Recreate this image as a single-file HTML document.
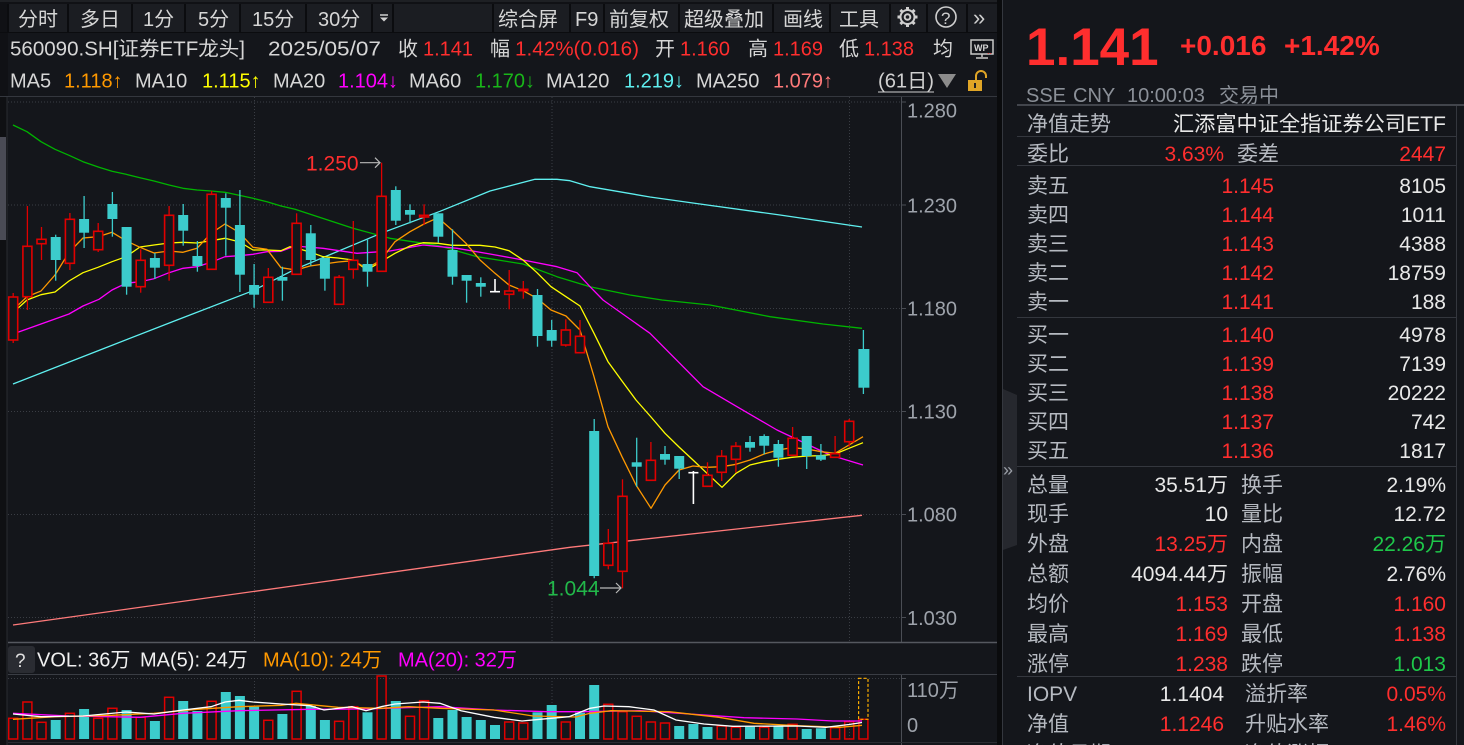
<!DOCTYPE html>
<html><head><meta charset="utf-8">
<style>
html,body{margin:0;padding:0;background:#14161b;width:1464px;height:745px;overflow:hidden}
svg{display:block}
text{font-family:"Liberation Sans","Noto Sans CJK SC",sans-serif}
</style></head><body>
<svg width="1464" height="745" viewBox="0 0 1464 745" xmlns="http://www.w3.org/2000/svg">
<rect x="0" y="0" width="1464" height="745" fill="#14161b"/>
<!-- toolbar -->
<rect x="0" y="0" width="997" height="4" fill="#101115"/>
<line x1="0" y1="1" x2="997" y2="1" stroke="#2c2e34" stroke-width="1"/>
<rect x="8" y="4" width="989" height="28" fill="#1b1d22"/>
<rect x="0" y="4" width="8" height="93" fill="#101115"/>
<g stroke="#0b0c0f" stroke-width="2">
<line x1="8" y1="4" x2="8" y2="32"/><line x1="68" y1="4" x2="68" y2="32"/><line x1="132" y1="4" x2="132" y2="32"/><line x1="185" y1="4" x2="185" y2="32"/><line x1="240" y1="4" x2="240" y2="32"/><line x1="306" y1="4" x2="306" y2="32"/><line x1="372" y1="4" x2="372" y2="32"/><line x1="393" y1="4" x2="393" y2="32"/><line x1="493" y1="4" x2="493" y2="32"/><line x1="570" y1="4" x2="570" y2="32"/><line x1="604" y1="4" x2="604" y2="32"/><line x1="679" y1="4" x2="679" y2="32"/><line x1="773" y1="4" x2="773" y2="32"/><line x1="830" y1="4" x2="830" y2="32"/><line x1="890" y1="4" x2="890" y2="32"/><line x1="927" y1="4" x2="927" y2="32"/><line x1="967" y1="4" x2="967" y2="32"/>
</g>
<line x1="0" y1="32.5" x2="997" y2="32.5" stroke="#0b0c0f" stroke-width="1"/>
<g font-size="20" fill="#d6d6d6">
<text x="18" y="26">分时</text><text x="80" y="26">多日</text><text x="143" y="26">1分</text><text x="198" y="26">5分</text><text x="252" y="26">15分</text><text x="318" y="26">30分</text>
<text x="498" y="26">综合屏</text><text x="575" y="26">F9</text><text x="609" y="26">前复权</text><text x="684" y="26">超级叠加</text><text x="783" y="26">画线</text><text x="839" y="26">工具</text>
</g>
<line x1="380" y1="15" x2="388" y2="15" stroke="#d0d0d0" stroke-width="1.5"/>
<polygon points="380,17.5 388,17.5 384,21.5" fill="#d0d0d0"/>
<!-- gear -->
<g stroke="#cfcfcf" fill="none" stroke-width="2">
<circle cx="907.5" cy="17" r="7"/><circle cx="907.5" cy="17" r="2.8"/>
</g>
<g stroke="#cfcfcf" stroke-width="3">
<line x1="907.5" y1="7" x2="907.5" y2="10"/><line x1="907.5" y1="24" x2="907.5" y2="27"/><line x1="897.5" y1="17" x2="900.5" y2="17"/><line x1="914.5" y1="17" x2="917.5" y2="17"/>
<line x1="900.4" y1="9.9" x2="902.5" y2="12"/><line x1="912.5" y1="22" x2="914.6" y2="24.1"/><line x1="900.4" y1="24.1" x2="902.5" y2="22"/><line x1="912.5" y1="12" x2="914.6" y2="9.9"/>
</g>
<circle cx="946" cy="17" r="10" stroke="#cfcfcf" stroke-width="1.6" fill="none"/>
<text x="941" y="24" font-size="17" fill="#cfcfcf">?</text>
<text x="973" y="25" font-size="22" fill="#cfcfcf">»</text>

<!-- row 2 -->
<g font-size="20" fill="#d6d6d6">
<text x="10" y="55.5" textLength="235" lengthAdjust="spacingAndGlyphs">560090.SH[证券ETF龙头]</text>
<text x="268" y="55.5" textLength="113" lengthAdjust="spacingAndGlyphs">2025/05/07</text>
<text x="398" y="55.5">收</text><text x="490" y="55.5">幅</text><text x="655" y="55.5">开</text><text x="748" y="55.5">高</text><text x="839" y="55.5">低</text><text x="933" y="55.5">均</text>
</g>
<g font-size="20" fill="#ff2e2e">
<text x="423" y="55.5">1.141</text>
<text x="515" y="55.5" textLength="124" lengthAdjust="spacingAndGlyphs">1.42%(0.016)</text>
<text x="680" y="55.5">1.160</text><text x="773" y="55.5">1.169</text><text x="864" y="55.5">1.138</text>
</g>
<!-- WP icon -->
<rect x="971" y="40" width="22" height="14" fill="none" stroke="#c8c8c8" stroke-width="1.5"/>
<text x="974" y="51" font-size="9" font-weight="bold" fill="#d8d8d8">WP</text>
<line x1="982" y1="54" x2="982" y2="57" stroke="#c8c8c8" stroke-width="1.5"/>
<line x1="976" y1="58" x2="988" y2="58" stroke="#c8c8c8" stroke-width="1.5"/>
<text x="987" y="54" font-size="9" fill="#ff2e2e">..</text>

<!-- row 3 MA legend -->
<g font-size="20">
<text x="10" y="87.5" fill="#d6d6d6">MA5</text><text x="64" y="87.5" fill="#ff9900">1.118↑</text>
<text x="135" y="87.5" fill="#d6d6d6">MA10</text><text x="202" y="87.5" fill="#ffff00">1.115↑</text>
<text x="273" y="87.5" fill="#d6d6d6">MA20</text><text x="338" y="87.5" fill="#ff00ff">1.104↓</text>
<text x="409" y="87.5" fill="#d6d6d6">MA60</text><text x="475" y="87.5" fill="#19b619">1.170↓</text>
<text x="546" y="87.5" fill="#d6d6d6">MA120</text><text x="624" y="87.5" fill="#5ff0f0">1.219↓</text>
<text x="696" y="87.5" fill="#d6d6d6">MA250</text><text x="773" y="87.5" fill="#ff7a7a">1.079↑</text>
<text x="878" y="87.5" fill="#d0d0d0" textLength="56" lengthAdjust="spacingAndGlyphs">(61日)</text>
</g>
<line x1="878" y1="92" x2="934" y2="92" stroke="#d0d0d0" stroke-width="1"/>
<polygon points="938,74 956,74 947,88" fill="#8c8c8c"/>
<path d="M976 80 V76 a5 5 0 0 1 10 0 V78" fill="none" stroke="#e0a526" stroke-width="2"/>
<rect x="968" y="80" width="14" height="11" fill="#e0a526"/>
<rect x="974" y="83" width="2" height="5" fill="#222"/>

<line x1="0" y1="96.5" x2="997" y2="96.5" stroke="#34373e" stroke-width="1"/>

<!-- left strip -->
<rect x="0" y="97" width="7" height="648" fill="#0f1013"/>
<rect x="0" y="137" width="6" height="103" fill="#4a4b55"/>
<line x1="7" y1="97" x2="7" y2="745" stroke="#2a2c32" stroke-width="1"/>

<!-- grid -->
<g stroke="#3a3d44" stroke-width="1" stroke-dasharray="1 2">
<line x1="8" y1="102" x2="901" y2="102"/><line x1="8" y1="205" x2="901" y2="205"/><line x1="8" y1="308.5" x2="901" y2="308.5"/><line x1="8" y1="411.5" x2="901" y2="411.5"/><line x1="8" y1="514.5" x2="901" y2="514.5"/><line x1="8" y1="617.5" x2="901" y2="617.5"/>
<line x1="254.5" y1="97" x2="254.5" y2="642"/><line x1="552" y1="97" x2="552" y2="642"/><line x1="849.5" y1="97" x2="849.5" y2="642"/>
<line x1="8" y1="678.5" x2="901" y2="678.5"/>
<line x1="254.5" y1="678" x2="254.5" y2="740"/><line x1="552" y1="678" x2="552" y2="740"/><line x1="849.5" y1="678" x2="849.5" y2="740"/>
</g>
<g stroke="#4a4d54" stroke-width="1">
<line x1="901.5" y1="97" x2="901.5" y2="642"/>
<line x1="901.5" y1="675" x2="901.5" y2="745"/>
<line x1="901" y1="102" x2="906" y2="102"/><line x1="901" y1="205" x2="906" y2="205"/><line x1="901" y1="308.5" x2="906" y2="308.5"/><line x1="901" y1="411.5" x2="906" y2="411.5"/><line x1="901" y1="514.5" x2="906" y2="514.5"/><line x1="901" y1="617.5" x2="906" y2="617.5"/><line x1="901" y1="678.5" x2="906" y2="678.5"/>
</g>
<g font-size="20" fill="#9ea3ab">
<text x="907" y="117.5">1.280</text><text x="907" y="212.5">1.230</text><text x="907" y="315.5">1.180</text><text x="907" y="418.5">1.130</text><text x="907" y="521.5">1.080</text><text x="907" y="625">1.030</text>
<text x="907" y="697">110万</text><text x="907" y="732">0</text>
</g>

<!-- MA lines -->
<g fill="none" stroke-width="1.3" stroke-linejoin="round">
<polyline stroke="#ff7a7a" points="13,625 300,585 570,547.3 862,515.3"/>
<polyline stroke="#5ff0f0" points="13,384 100,350 177,320 253,290.7 295,269.3 381,233.3 440,211.3 490,191 535,179.3 557,179.3 570,180.7 590,186.7 650,197 700,204 780,215 862,227"/>
<polyline stroke="#00b400" points="13,125 27,131.7 41,141.7 55,149.3 69,155.3 83,161.7 99,167.3 112,171.3 126,174.3 140,177.7 154,181 169,185 183,188.3 197,190 211,191 225,192.3 239,195.3 253,198.3 267,201.7 281,206 295,209.3 353,228.3 390,238.3 437,245.3 477,256.7 523,264 557,276.7 590,286.7 630,295 662,300 710,305 770,316.7 823,324 862,328.3"/>
<polyline stroke="#ff00ff" points="13,334 27,329 41,324 55,319 69,314 83,306 99,299.3 112,290 126,283.3 140,281.7 154,278.7 169,272.7 183,268.3 197,266.7 211,262.3 225,256.7 239,255.7 253,254.3 267,251.7 281,251.3 295,246 323,248.3 357,253.3 390,251 423,245 457,248.3 490,254 523,260 557,266.7 577,272.7 590,286.7 603,300 650,333.3 703,386.7 737,406.7 777,430 830,455 863,465"/>
<polyline stroke="#ffff00" points="13,312.7 27,300 41,294.7 55,292 69,281 83,272.7 98,267.3 112,261.7 126,256.7 140,247 154,245 169,243 183,242.3 197,243 211,240.7 225,238.3 239,241.7 253,250 267,250 281,250.7 290,246.7 296,248 310,252 323,256.7 338,258 353,260 367,270 381,261.7 395,253.3 410,246 423,242.7 438,243.3 452,245.3 466,245.3 480,245.3 495,247 509,250.7 523,260 537,272.7 551,286.7 566,296.7 580,306 594,333.3 608,361.7 622,381 636,400 651,417 665,433.3 679,447 693,460 707,473.3 722,487.3 736,473.3 750,465 764,461.7 778,459.3 792,457.3 807,456 821,455.7 835,454 849,448.3 863,442.7"/>
<polyline stroke="#ff9900" points="13,310 27,296.7 41,291 55,275 69,252.3 83,238 98,236.7 112,232.3 126,240.7 140,247.3 154,253 169,251 183,252.3 197,248.3 211,233.3 225,224 239,232.3 253,247.3 267,249.3 281,267.7 296,270 310,266 324,264 338,262 353,260.7 367,268.3 381,260 395,241.7 410,231.7 424,224 438,217.7 452,230 466,243.3 480,260 495,273.3 509,285 523,290.7 537,298.3 551,310 566,316 580,330 594,376.7 608,426.7 622,456.7 636,485 651,508.3 665,485 679,470 693,466 707,467.3 722,466.7 736,464.3 750,460 764,454 778,450 792,447.7 807,449 821,451.7 835,453.3 849,445 863,436.7"/>
</g>

<!-- down candles (cyan) -->
<g stroke="#3ccccc" stroke-width="1.3">
<line x1="55.7" y1="234.7" x2="55.7" y2="280.7"/><line x1="84.1" y1="196" x2="84.1" y2="248"/><line x1="112.4" y1="192" x2="112.4" y2="236.7"/><line x1="126.6" y1="227" x2="126.6" y2="294.7"/><line x1="154.9" y1="253" x2="154.9" y2="279"/><line x1="183.2" y1="204" x2="183.2" y2="245.7"/><line x1="197.4" y1="241" x2="197.4" y2="271.7"/><line x1="225.8" y1="193.3" x2="225.8" y2="255.7"/><line x1="239.9" y1="190" x2="239.9" y2="292"/><line x1="254.1" y1="264" x2="254.1" y2="307.7"/><line x1="282.4" y1="266.7" x2="282.4" y2="300.7"/><line x1="310.8" y1="225" x2="310.8" y2="265.7"/><line x1="324.9" y1="258" x2="324.9" y2="290.7"/><line x1="367.5" y1="239" x2="367.5" y2="286.7"/><line x1="395.8" y1="186.3" x2="395.8" y2="225"/><line x1="410" y1="204.3" x2="410" y2="223.3"/><line x1="438.3" y1="213.3" x2="438.3" y2="242.7"/><line x1="452.5" y1="229.3" x2="452.5" y2="284.7"/><line x1="466.6" y1="275" x2="466.6" y2="302.7"/><line x1="480.8" y1="277.3" x2="480.8" y2="296.7"/><line x1="537.5" y1="289" x2="537.5" y2="346.7"/><line x1="551.7" y1="320" x2="551.7" y2="346.7"/><line x1="594.2" y1="419" x2="594.2" y2="578.3"/><line x1="636.7" y1="437.7" x2="636.7" y2="486.7"/><line x1="665" y1="446" x2="665" y2="464.7"/><line x1="679.2" y1="456" x2="679.2" y2="479"/><line x1="750" y1="436" x2="750" y2="451.7"/><line x1="764.2" y1="434.3" x2="764.2" y2="454.3"/><line x1="778.4" y1="440" x2="778.4" y2="466.7"/><line x1="806.7" y1="436" x2="806.7" y2="469"/><line x1="820.9" y1="444" x2="820.9" y2="461"/><line x1="863.4" y1="330" x2="863.4" y2="394"/>
</g>
<g fill="#3ccccc">
<rect x="50.7" y="237" width="10" height="23"/><rect x="79.1" y="219" width="10" height="13.7"/><rect x="107.4" y="204" width="10" height="15"/><rect x="121.6" y="227" width="10" height="59.7"/><rect x="149.9" y="258" width="10" height="9.7"/><rect x="178.2" y="215" width="10" height="15.7"/><rect x="192.4" y="256" width="10" height="10"/><rect x="220.8" y="198" width="10" height="9.7"/><rect x="234.9" y="225" width="10" height="49.7"/><rect x="249.1" y="285" width="10" height="9.7"/><rect x="277.4" y="277" width="10" height="3.7"/><rect x="305.8" y="233.3" width="10" height="26.7"/><rect x="319.9" y="258" width="10" height="20.7"/><rect x="362.5" y="264" width="10" height="7.7"/><rect x="390.8" y="190" width="10" height="30.7"/><rect x="405" y="210" width="10" height="4.7"/><rect x="433.3" y="213.3" width="10" height="23.4"/><rect x="447.5" y="250" width="10" height="26.7"/><rect x="461.6" y="275" width="10" height="5.7"/><rect x="475.8" y="283" width="10" height="3.7"/><rect x="532.5" y="295" width="10" height="41"/><rect x="546.7" y="330" width="10" height="10.7"/><rect x="589.2" y="431" width="10" height="145"/><rect x="631.7" y="462.3" width="10" height="4.4"/><rect x="660" y="454" width="10" height="5.7"/><rect x="674.2" y="456" width="10" height="12.7"/><rect x="745" y="442" width="10" height="5.7"/><rect x="759.2" y="436" width="10" height="9.7"/><rect x="773.4" y="444" width="10" height="13.7"/><rect x="801.7" y="436" width="10" height="20"/><rect x="815.9" y="455.3" width="10" height="4.4"/><rect x="858.4" y="349" width="11" height="38.7"/>
</g>
<!-- up candles (red hollow) -->
<g stroke="#e00000" stroke-width="1.3">
<line x1="13.2" y1="293" x2="13.2" y2="343"/><line x1="27.4" y1="206" x2="27.4" y2="310"/><line x1="41.5" y1="227" x2="41.5" y2="260"/><line x1="69.9" y1="213" x2="69.9" y2="270"/><line x1="98.2" y1="223" x2="98.2" y2="252"/><line x1="140.7" y1="249.3" x2="140.7" y2="292.7"/><line x1="169.1" y1="206" x2="169.1" y2="280.7"/><line x1="211.6" y1="191" x2="211.6" y2="269.3"/><line x1="268.3" y1="268" x2="268.3" y2="302.3"/><line x1="296.6" y1="213.3" x2="296.6" y2="274.3"/><line x1="339.1" y1="275" x2="339.1" y2="304.3"/><line x1="353.3" y1="221" x2="353.3" y2="278.7"/><line x1="381.6" y1="162.7" x2="381.6" y2="271.3"/><line x1="424.1" y1="204.3" x2="424.1" y2="225"/><line x1="509.2" y1="270" x2="509.2" y2="309.3"/><line x1="523.3" y1="281" x2="523.3" y2="298.7"/><line x1="565.8" y1="319.3" x2="565.8" y2="346.7"/><line x1="580" y1="320" x2="580" y2="352.7"/><line x1="608.3" y1="529" x2="608.3" y2="569.3"/><line x1="622.5" y1="479.3" x2="622.5" y2="588.3"/><line x1="650.9" y1="442" x2="650.9" y2="480.3"/><line x1="707.5" y1="462.3" x2="707.5" y2="486.3"/><line x1="721.7" y1="450" x2="721.7" y2="481"/><line x1="735.9" y1="442" x2="735.9" y2="472.7"/><line x1="792.6" y1="427" x2="792.6" y2="455.3"/><line x1="835.1" y1="436" x2="835.1" y2="457.3"/><line x1="849.2" y1="419" x2="849.2" y2="446.7"/>
</g>
<g fill="#14161b" stroke="#e00000" stroke-width="1.6">
<rect x="8.7" y="297" width="9" height="43"/><rect x="22.9" y="246.3" width="9" height="50.4"/><rect x="37" y="239.3" width="9" height="4.4"/><rect x="65.4" y="219.3" width="9" height="44"/><rect x="93.7" y="231.3" width="9" height="18.4"/><rect x="136.2" y="260.3" width="9" height="26.4"/><rect x="164.6" y="215.3" width="9" height="50"/><rect x="207.1" y="194.3" width="9" height="75"/><rect x="263.8" y="277.3" width="9" height="25"/><rect x="292.1" y="223.3" width="9" height="51"/><rect x="334.6" y="277.3" width="9" height="27"/><rect x="348.8" y="260.3" width="9" height="9"/><rect x="377.1" y="196.3" width="9" height="75"/><rect x="419.6" y="215.3" width="9" height="1.7"/><rect x="504.7" y="291" width="9" height="3.3"/><rect x="518.8" y="289.3" width="9" height="1.4"/><rect x="561.3" y="330" width="9" height="15"/><rect x="575.5" y="336.3" width="9" height="16.4"/><rect x="603.8" y="543.3" width="9" height="22"/><rect x="618" y="496.3" width="9" height="75"/><rect x="646.4" y="460.3" width="9" height="20"/><rect x="703" y="475.3" width="9" height="11"/><rect x="717.2" y="456.3" width="9" height="16"/><rect x="731.4" y="446.3" width="9" height="13"/><rect x="788.1" y="438.3" width="9" height="17"/><rect x="830.6" y="453.7" width="9" height="3.6"/><rect x="844.7" y="421.3" width="9" height="20.4"/>
</g>
<!-- doji -->
<g stroke="#ffffff" stroke-width="1.6">
<line x1="495" y1="279" x2="495" y2="292"/><line x1="490" y1="291.7" x2="500" y2="291.7"/>
<line x1="693.4" y1="471" x2="693.4" y2="504"/><line x1="688.4" y1="472.7" x2="698.4" y2="472.7"/>
</g>
<!-- high / low labels -->
<text x="306" y="170.5" font-size="21" fill="#ff2e2e">1.250</text>
<g stroke="#b8b8b8" stroke-width="1.2" fill="none">
<line x1="360" y1="162.7" x2="380" y2="162.7"/><polyline points="375,157.7 380,162.7 375,167.7"/>
<line x1="600" y1="588" x2="621" y2="588"/><polyline points="616,583 621,588 616,593"/>
</g>
<text x="547" y="595.5" font-size="21" fill="#22b84a">1.044</text>

<!-- separators main/vol -->
<line x1="8" y1="642.5" x2="997" y2="642.5" stroke="#55585f" stroke-width="1.5"/>
<line x1="8" y1="674.5" x2="997" y2="674.5" stroke="#3a3d44" stroke-width="1"/>
<rect x="8" y="646" width="27" height="27" rx="3" fill="#2a2c32"/>
<text x="15" y="667" font-size="19" fill="#e0e0e0">?</text>
<g font-size="20">
<text x="37" y="666.5" fill="#f0f0f0">VOL: 36万</text>
<text x="140" y="666.5" fill="#f0f0f0">MA(5): 24万</text>
<text x="263" y="666.5" fill="#ff9900">MA(10): 24万</text>
<text x="398" y="666.5" fill="#ff00ff">MA(20): 32万</text>
</g>

<!-- volume bars cyan -->
<g fill="#3ccccc">
<rect x="50.7" y="720" width="10" height="19"/><rect x="79.1" y="709" width="10" height="30"/><rect x="121.6" y="710" width="10" height="29"/><rect x="149.9" y="721" width="10" height="18"/><rect x="178.2" y="701" width="10" height="38"/><rect x="192.4" y="711" width="10" height="28"/><rect x="220.8" y="692" width="10" height="47"/><rect x="234.9" y="696" width="10" height="43"/><rect x="249.1" y="706.7" width="10" height="32.3"/><rect x="277.4" y="714" width="10" height="25"/><rect x="305.8" y="706" width="10" height="33"/><rect x="319.9" y="720" width="10" height="19"/><rect x="362.5" y="712.3" width="10" height="26.7"/><rect x="390.8" y="701" width="10" height="38"/><rect x="433.3" y="718" width="10" height="21"/><rect x="447.5" y="710" width="10" height="29"/><rect x="461.6" y="717" width="10" height="22"/><rect x="475.8" y="720" width="10" height="19"/><rect x="490" y="725" width="10" height="14"/><rect x="532.5" y="712.3" width="10" height="26.7"/><rect x="546.7" y="705" width="10" height="34"/><rect x="575" y="712.7" width="10" height="26.3"/><rect x="589.2" y="685" width="10" height="54"/><rect x="674.2" y="726" width="10" height="13"/><rect x="688.4" y="724" width="10" height="15"/><rect x="702.5" y="727" width="10" height="12"/><rect x="745" y="726.7" width="10" height="12.3"/><rect x="773.4" y="726" width="10" height="13"/><rect x="801.7" y="729" width="10" height="10"/><rect x="815.9" y="728.3" width="10" height="10.7"/>
</g>
<g fill="none" stroke="#e00000" stroke-width="1.5">
<rect x="8.7" y="718.3" width="9" height="20.7"/><rect x="22.9" y="702" width="9" height="37"/><rect x="37" y="722.3" width="9" height="16.7"/><rect x="65.4" y="713.3" width="9" height="25.7"/><rect x="93.7" y="718.3" width="9" height="20.7"/><rect x="107.9" y="708.3" width="9" height="30.7"/><rect x="136.2" y="717.3" width="9" height="21.7"/><rect x="164.6" y="697.3" width="9" height="41.7"/><rect x="207.1" y="701.3" width="9" height="37.7"/><rect x="263.8" y="720.3" width="9" height="18.7"/><rect x="292.1" y="691.3" width="9" height="47.7"/><rect x="334.6" y="721.3" width="9" height="17.7"/><rect x="348.8" y="706.7" width="9" height="32.3"/><rect x="377.1" y="676" width="9" height="63"/><rect x="405.5" y="716.3" width="9" height="22.7"/><rect x="419.6" y="700.7" width="9" height="38.3"/><rect x="504.7" y="722" width="9" height="17"/><rect x="518.8" y="723" width="9" height="16"/><rect x="561.3" y="722" width="9" height="17"/><rect x="603.8" y="704.3" width="9" height="34.7"/><rect x="618" y="711.7" width="9" height="27.3"/><rect x="632.2" y="716.3" width="9" height="22.7"/><rect x="646.4" y="722" width="9" height="17"/><rect x="660.5" y="723" width="9" height="16"/><rect x="717.2" y="726" width="9" height="13"/><rect x="731.4" y="727.3" width="9" height="11.7"/><rect x="759.7" y="727.3" width="9" height="11.7"/><rect x="788.1" y="724.3" width="9" height="14.7"/><rect x="830.6" y="727.7" width="9" height="11.3"/><rect x="844.7" y="721.7" width="9" height="17.3"/><rect x="858.9" y="719.3" width="9" height="19.7"/>
</g>
<rect x="858.6" y="678.3" width="9.4" height="41" fill="none" stroke="#ffb000" stroke-width="1.2" stroke-dasharray="3 2"/>
<!-- volume MA lines -->
<g fill="none" stroke-width="1.3">
<polyline stroke="#ff00ff" points="13,713.3 69,716 140,717.3 183,713.3 239,710.7 310,709.3 366,709 395,708 440,706.7 494,710 547,711.7 583,711.7 640,710.7 690,714 744,717.7 797,719 833,721 862,721"/>
<polyline stroke="#ff9900" points="13,719.3 55,716.7 112,715.3 154,713.3 197,709.3 239,706.7 281,705.3 296,703.3 338,707.3 381,708.3 409,706.7 440,708.3 494,710 533,716 576,717 590,713.3 611,710.7 669,711.7 719,717.3 754,723.3 797,725.7 840,727.3 862,725.3"/>
<polyline stroke="#ffffff" points="13,714 41,716.7 83,716 126,712 154,714 183,710 211,706.7 225,702 239,700.3 253,702 281,704 310,705.7 324,710 352,706.7 366,710.7 381,706.7 395,704 423,702 440,703.3 461,710.7 494,717.3 522,721 540,719.3 569,716.7 590,708.3 604,706 629,706.7 654,710 676,720 704,724 733,726.3 797,726 826,727.3 849,724.5 862,722.5"/>
</g>
<line x1="8" y1="742.5" x2="997" y2="742.5" stroke="#2a2c32" stroke-width="1"/>

<!-- panel separator -->
<rect x="997" y="0" width="6" height="745" fill="#0a0b0d"/>
<line x1="1002.5" y1="0" x2="1002.5" y2="745" stroke="#34373e" stroke-width="1"/>
<polygon points="1003,389 1017,395 1017,545 1003,550" fill="#26282e"/>
<text x="1003" y="476" font-size="18" fill="#9a9ea6">»</text>

<!-- right panel -->
<text x="1026" y="65" font-size="53" font-weight="bold" fill="#ff2e2e">1.141</text>
<text x="1180" y="55" font-size="28" font-weight="bold" fill="#ff2e2e">+0.016</text>
<text x="1284" y="55" font-size="28" font-weight="bold" fill="#ff2e2e">+1.42%</text>
<g font-size="20" fill="#8b9098">
<text x="1026" y="102">SSE</text><text x="1073" y="102">CNY</text><text x="1127" y="102">10:00:03</text><text x="1219" y="102">交易中</text>
</g>
<line x1="1017" y1="105" x2="1464" y2="105" stroke="#42454c" stroke-width="2"/>
<line x1="1456.5" y1="106" x2="1456.5" y2="745" stroke="#34373e" stroke-width="1"/>
<g stroke="#34373e" stroke-width="1">
<line x1="1017" y1="136.5" x2="1456" y2="136.5"/><line x1="1017" y1="165.5" x2="1456" y2="165.5"/><line x1="1017" y1="317.5" x2="1456" y2="317.5"/><line x1="1017" y1="466.5" x2="1456" y2="466.5"/><line x1="1017" y1="676.5" x2="1456" y2="676.5"/>
</g>
<g font-size="21" fill="#b6bac1">
<text x="1027" y="131">净值走势</text>
<text x="1027" y="161">委比</text><text x="1237" y="161">委差</text>
<text x="1027" y="193">卖五</text><text x="1027" y="222">卖四</text><text x="1027" y="251">卖三</text><text x="1027" y="280">卖二</text><text x="1027" y="309">卖一</text>
<text x="1027" y="342">买一</text><text x="1027" y="371">买二</text><text x="1027" y="400">买三</text><text x="1027" y="429">买四</text><text x="1027" y="458">买五</text>
<text x="1027" y="492">总量</text><text x="1241" y="492">换手</text>
<text x="1027" y="521">现手</text><text x="1241" y="521">量比</text>
<text x="1027" y="551">外盘</text><text x="1241" y="551">内盘</text>
<text x="1027" y="581">总额</text><text x="1241" y="581">振幅</text>
<text x="1027" y="611">均价</text><text x="1241" y="611">开盘</text>
<text x="1027" y="641">最高</text><text x="1241" y="641">最低</text>
<text x="1027" y="671">涨停</text><text x="1241" y="671">跌停</text>
<text x="1027" y="701">IOPV</text><text x="1245" y="701">溢折率</text>
<text x="1027" y="731">净值</text><text x="1245" y="731">升贴水率</text>
<text x="1027" y="761">净值日期</text><text x="1245" y="761">净值涨幅</text>
</g>
<g font-size="21" fill="#e8e8e8" text-anchor="end">
<text x="1446" y="131" textLength="273" lengthAdjust="spacingAndGlyphs">汇添富中证全指证券公司ETF</text>
<text x="1446" y="193">8105</text><text x="1446" y="222">1011</text><text x="1446" y="251">4388</text><text x="1446" y="280">18759</text><text x="1446" y="309">188</text>
<text x="1446" y="342">4978</text><text x="1446" y="371">7139</text><text x="1446" y="400">20222</text><text x="1446" y="429">742</text><text x="1446" y="458">1817</text>
<text x="1228" y="492">35.51万</text><text x="1446" y="492">2.19%</text>
<text x="1228" y="521">10</text><text x="1446" y="521">12.72</text>
<text x="1228" y="581">4094.44万</text><text x="1446" y="581">2.76%</text>
<text x="1224" y="701">1.1404</text>
<text x="1224" y="761">2025</text><text x="1446" y="761">0.00%</text>
</g>
<g font-size="21" fill="#ff2e2e" text-anchor="end">
<text x="1224" y="161">3.63%</text><text x="1446" y="161">2447</text>
<text x="1274" y="193">1.145</text><text x="1274" y="222">1.144</text><text x="1274" y="251">1.143</text><text x="1274" y="280">1.142</text><text x="1274" y="309">1.141</text>
<text x="1274" y="342">1.140</text><text x="1274" y="371">1.139</text><text x="1274" y="400">1.138</text><text x="1274" y="429">1.137</text><text x="1274" y="458">1.136</text>
<text x="1228" y="551">13.25万</text>
<text x="1228" y="611">1.153</text><text x="1446" y="611">1.160</text>
<text x="1228" y="641">1.169</text><text x="1446" y="641">1.138</text>
<text x="1228" y="671">1.238</text>
<text x="1446" y="701">0.05%</text>
<text x="1224" y="731">1.1246</text><text x="1446" y="731">1.46%</text>
</g>
<g font-size="21" fill="#1ec84a" text-anchor="end">
<text x="1446" y="551">22.26万</text><text x="1446" y="671">1.013</text>
</g>
</svg>
</body></html>
